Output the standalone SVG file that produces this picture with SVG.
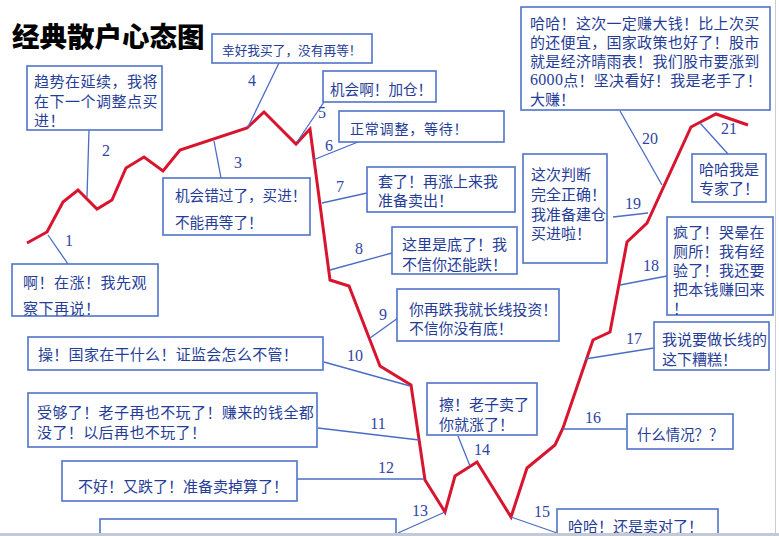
<svg xmlns="http://www.w3.org/2000/svg" width="779" height="536" viewBox="0 0 779 536">
<style>
.box{fill:#fff;stroke:#4f74c8;stroke-width:1.6}
.t{font-family:"Noto Sans CJK SC","Noto Sans CJK TC",sans-serif;font-size:15px;fill:#263d98;dominant-baseline:central}
.n{font-family:"Liberation Serif",serif;font-size:16px;fill:#2f45a6;text-anchor:middle;dominant-baseline:central}
.c{stroke:#4a6cc4;stroke-width:1.3;fill:none}
.red{fill:none;stroke:#d8142e;stroke-width:3;stroke-linejoin:miter}
</style>
<rect width="779" height="536" fill="#fff"/>
<text x="12" y="35" font-family="'Noto Sans CJK SC',sans-serif" font-size="27.5" font-weight="900" fill="#000" dominant-baseline="central">经典散户心态图</text>

<polyline class="red" points="27,243 47,232 63,202 78,190 97,209 112,200 126,168 144,157 163,171 180,150 247,128 264,112 296,144 310,129 330,280 349,286 380,366 411,385 425,480 445,512 455,476 477,462 511,517 527,468 555,445 563,428 593,340 610,332 627,242 647,223 691,127 716,114 748,125"/>

<g id="connectors">
<line class="c" x1="48" y1="235" x2="68" y2="264"/>
<line class="c" x1="89" y1="130" x2="87" y2="197"/>
<line class="c" x1="214" y1="141" x2="221" y2="178"/>
<line class="c" x1="279" y1="63" x2="248" y2="127"/>
<line class="c" x1="324" y1="102" x2="297" y2="142"/>
<line class="c" x1="358" y1="142" x2="313" y2="160"/>
<line class="c" x1="322" y1="203" x2="367" y2="193"/>
<line class="c" x1="330" y1="270" x2="392" y2="253"/>
<line class="c" x1="370" y1="338" x2="398" y2="318"/>
<line class="c" x1="324" y1="362" x2="410" y2="386"/>
<line class="c" x1="318" y1="428" x2="419" y2="440"/>
<line class="c" x1="297" y1="479" x2="424" y2="479"/>
<line class="c" x1="398" y1="533" x2="445" y2="512"/>
<line class="c" x1="458" y1="436" x2="470" y2="466"/>
<line class="c" x1="511" y1="517" x2="557" y2="533"/>
<line class="c" x1="563" y1="429" x2="626" y2="429"/>
<line class="c" x1="585" y1="359" x2="654" y2="348"/>
<line class="c" x1="620" y1="285" x2="667" y2="276"/>
<line class="c" x1="613" y1="217" x2="648" y2="213"/>
<line class="c" x1="620" y1="111" x2="662" y2="185"/>
<line class="c" x1="700" y1="123" x2="728" y2="154"/>
<text class="n" x="69" y="240">1</text>
<text class="n" x="106" y="150">2</text>
<text class="n" x="238" y="162">3</text>
<text class="n" x="252" y="80">4</text>
<text class="n" x="322" y="112">5</text>
<text class="n" x="329" y="145">6</text>
<text class="n" x="340" y="186">7</text>
<text class="n" x="359" y="248">8</text>
<text class="n" x="383" y="314">9</text>
<text class="n" x="355" y="355">10</text>
<text class="n" x="378" y="423">11</text>
<text class="n" x="386" y="467">12</text>
<text class="n" x="420" y="510">13</text>
<text class="n" x="482" y="449">14</text>
<text class="n" x="542" y="511">15</text>
<text class="n" x="593" y="417">16</text>
<text class="n" x="634" y="338">17</text>
<text class="n" x="651" y="265">18</text>
<text class="n" x="633" y="203">19</text>
<text class="n" x="650" y="138">20</text>
<text class="n" x="729" y="128">21</text>
</g>

<g id="node1"><rect class="box" x="12" y="264" width="146" height="52"/>
<text class="t" x="23" y="281" letter-spacing="0.5">啊！在涨！我先观</text><text class="t" x="23" y="307" letter-spacing="0.5">察下再说！</text></g>

<g id="node2"><rect class="box" x="27" y="66" width="135" height="64"/>
<text class="t" x="34" y="80" letter-spacing="0.5">趋势在延续，我将</text><text class="t" x="34" y="100" letter-spacing="0.5">在下一个调整点买</text><text class="t" x="34" y="119" letter-spacing="0.5">进！</text></g>

<g id="node3"><rect class="box" x="163" y="178" width="147" height="57"/>
<text class="t" x="175" y="194" style="font-size:14.6px">机会错过了，买进！</text><text class="t" x="175" y="221" style="font-size:14.6px">不能再等了！</text></g>

<g id="node4"><rect class="box" x="212" y="34" width="160" height="29"/>
<text class="t" x="222" y="49" style="font-size:12.7px">幸好我买了，没有再等！</text></g>

<g id="node5"><rect class="box" x="323" y="71" width="113" height="31"/>
<text class="t" x="330" y="88" style="font-size:14.6px">机会啊！加仓！</text></g>

<g id="node6"><rect class="box" x="339" y="111" width="165" height="31"/>
<text class="t" x="350" y="128" style="font-size:14px" letter-spacing="0.8">正常调整，等待！</text></g>

<g id="node7"><rect class="box" x="367" y="167" width="148" height="45"/>
<text class="t" x="378" y="180">套了！再涨上来我</text><text class="t" x="378" y="199">准备卖出！</text></g>

<g id="node8"><rect class="box" x="392" y="227" width="125" height="47"/>
<text class="t" x="402" y="243">这里是底了！我</text><text class="t" x="402" y="263">不信你还能跌！</text></g>

<g id="node9"><rect class="box" x="397" y="289" width="162" height="52"/>
<text class="t" x="409" y="308" style="font-size:14.8px">你再跌我就长线投资！</text><text class="t" x="409" y="327" style="font-size:14.8px">不信你没有底！</text></g>

<g id="node10"><rect class="box" x="28" y="337" width="295" height="33"/>
<text class="t" x="38" y="353" letter-spacing="0.3">操！国家在干什么！证监会怎么不管！</text></g>

<g id="node11"><rect class="box" x="28" y="393" width="289" height="54"/>
<text class="t" x="37" y="411" letter-spacing="0.4">受够了！老子再也不玩了！赚来的钱全都</text><text class="t" x="37" y="431" letter-spacing="0.4">没了！以后再也不玩了！</text></g>

<g id="node12"><rect class="box" x="62" y="461" width="235" height="40"/>
<text class="t" x="78" y="485">不好！又跌了！准备卖掉算了！</text></g>

<g id="node13"><rect class="box" x="100" y="519" width="296" height="30"/></g>

<g id="node14"><rect class="box" x="427" y="383" width="110" height="52"/>
<text class="t" x="439" y="403">擦！老子卖了</text><text class="t" x="439" y="423">你就涨了！</text></g>

<g id="node15"><rect class="box" x="557" y="509" width="161" height="40"/>
<text class="t" x="568" y="525">哈哈！还是卖对了！</text></g>

<g id="node16"><rect class="box" x="627" y="414" width="106" height="35"/>
<text class="t" x="637" y="433" style="font-size:14.4px">什么情况？？</text></g>

<g id="node17"><rect class="box" x="654" y="322" width="115" height="48"/>
<text class="t" x="662" y="338">我说要做长线的</text><text class="t" x="662" y="358">这下糟糕！</text></g>

<g id="node18"><rect class="box" x="667" y="217" width="106" height="98"/>
<text class="t" x="673" y="231" letter-spacing="0.3">疯了！哭晕在</text><text class="t" x="673" y="250" letter-spacing="0.3">厕所！我有经</text><text class="t" x="673" y="269" letter-spacing="0.3">验了！我还要</text><text class="t" x="673" y="288" letter-spacing="0.3">把本钱赚回来</text><text class="t" x="673" y="307">！</text></g>

<g id="node19"><rect class="box" x="523" y="154" width="84" height="109"/>
<text class="t" x="531" y="173">这次判断</text><text class="t" x="531" y="193">完全正确！</text><text class="t" x="531" y="213">我准备建仓</text><text class="t" x="531" y="232">买进啦！</text></g>

<g id="node20"><rect class="box" x="521" y="7" width="249" height="103"/>
<text class="t" x="530" y="22" letter-spacing="0.3">哈哈！这次一定赚大钱！比上次买</text><text class="t" x="530" y="41" letter-spacing="0.3">的还便宜，国家政策也好了！股市</text><text class="t" x="530" y="60" letter-spacing="0.3">就是经济晴雨表！我们股市要涨到</text><text class="t" x="530" y="79" letter-spacing="0.3"><tspan style="font-family:'Liberation Serif',serif;font-size:16px">6000</tspan>点！坚决看好！我是老手了！</text><text class="t" x="530" y="98">大赚！</text></g>

<g id="node21"><rect class="box" x="692" y="154" width="74" height="48"/>
<text class="t" x="699" y="168">哈哈我是</text><text class="t" x="699" y="187">专家了！</text></g>

<line x1="775.5" y1="0" x2="775.5" y2="533" stroke="#c9ccd6" stroke-width="1"/>
<rect x="0" y="533" width="779" height="3" fill="#c4c9d6"/>
</svg>
